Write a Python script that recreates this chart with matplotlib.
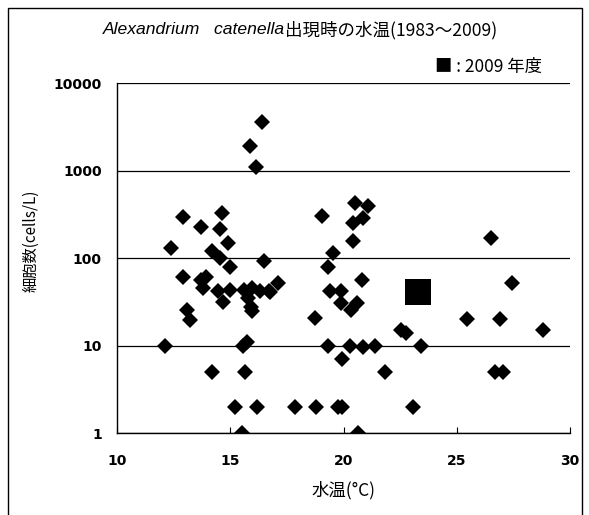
import numpy as np
import matplotlib.pyplot as plt
from matplotlib.patches import Rectangle

# 水温(°C) と 細胞数(cells/L) ― 1983～2008
temps = [12.1, 12.4, 12.9, 12.9, 13.1, 13.2, 13.7, 13.7, 13.95, 13.8, 14.2,
         14.65, 14.55, 14.9, 14.2, 14.55, 15.0, 14.45, 15.0, 14.7,
         15.6, 15.95, 16.3, 16.7, 15.8, 15.9, 15.95, 15.55, 15.75, 15.65,
         15.2, 15.5, 16.2, 16.5, 17.1, 16.75, 16.4, 15.85, 16.15,
         19.05, 20.5, 21.1, 20.85, 20.4, 20.4, 19.55, 19.3, 20.8, 19.4, 19.9,
         19.9, 20.6, 20.35, 18.75, 19.3, 20.3, 20.85, 21.4, 19.95, 21.85,
         17.85, 18.8, 19.75, 19.95, 20.65, 22.55, 22.75, 23.4, 23.05,
         26.5, 27.45, 25.45, 26.9, 28.8, 26.7, 27.05]
cells = [10, 130, 300, 61, 26, 20, 230, 57, 62, 46, 5,
         330, 215, 150, 120, 100, 80, 42, 44, 32,
         44, 46, 42, 42, 35, 28, 25, 10, 11, 5,
         2, 1, 2, 94, 52, 41, 3600, 1950, 1120,
         305, 430, 400, 290, 255, 160, 115, 80, 57, 42, 42,
         31, 31, 26, 21, 10, 10, 9.8, 10, 7, 5,
         2, 2, 2, 2, 1, 15, 14, 10, 2,
         170, 52, 20.5, 20.5, 15, 5, 5]

# 2009 年度
temp_2009 = [23.3]
cells_2009 = [41]

yticks = [1, 10, 100, 1000, 10000]
xticks = [10, 15, 20, 25, 30]

jp = ['Noto Sans CJK JP', 'DejaVu Sans']
num = ['Liberation Sans', 'DejaVu Sans']

fig = plt.figure(figsize=(5.89, 5.15), dpi=100)
ax = fig.add_axes([0.1987, 0.1586, 0.7690, 0.6793])

ax.plot(temps, cells, linestyle='none', marker='D', ms=8.5,
        color='black', markeredgewidth=0)
ax.plot(temp_2009, cells_2009, linestyle='none', marker='s', ms=18.5,
        color='black', markeredgewidth=0)

ax.set_yscale('log')
ax.set_xlim(10, 30)
ax.set_ylim(1, 10000)
ax.set_xticks(xticks)
ax.set_xticklabels([str(t) for t in xticks], family='DejaVu Sans', fontsize=10,
                   fontweight='bold')
ax.set_yticks(yticks)
ax.set_yticklabels([str(t) for t in yticks], family='DejaVu Sans', fontsize=10,
                   fontweight='bold')
ax.yaxis.set_minor_locator(plt.NullLocator())
ax.tick_params(axis='x', direction='in', length=4, width=0.8, pad=15)
ax.tick_params(axis='y', length=0, pad=11)

ax.grid(axis='y', color='black', linewidth=0.9)
ax.set_axisbelow(True)
for side in ['top', 'right']:
    ax.spines[side].set_visible(False)
for side in ['left', 'bottom']:
    ax.spines[side].set_linewidth(1.0)

ax.set_xlabel('水温(°C)', family=jp, fontsize=12.5)
ax.xaxis.set_label_coords(0.501, -0.136)
ax.set_ylabel('細胞数(cells/L)', family=jp, fontsize=11)
ax.yaxis.set_label_coords(-0.172, 0.55)

# タイトル（学名はイタリック）
fig.text(0.484, 0.942, 'Alexandrium   catenella', ha='right', va='center',
         family=num, style='italic', fontsize=12.6)
fig.text(0.484, 0.942, '出現時の水温(1983～2009)', ha='left', va='center',
         family=jp, fontsize=12.6)

fig.text(0.7385, 0.870, '■ : 2009 年度', ha='left', va='center',
         family=jp, fontsize=12.5)

fig.patches.append(Rectangle((0.013, -0.02), 0.975, 1.0045, transform=fig.transFigure,
                             fill=False, edgecolor='black', linewidth=1.0))

fig.savefig('out.png', dpi=100)
